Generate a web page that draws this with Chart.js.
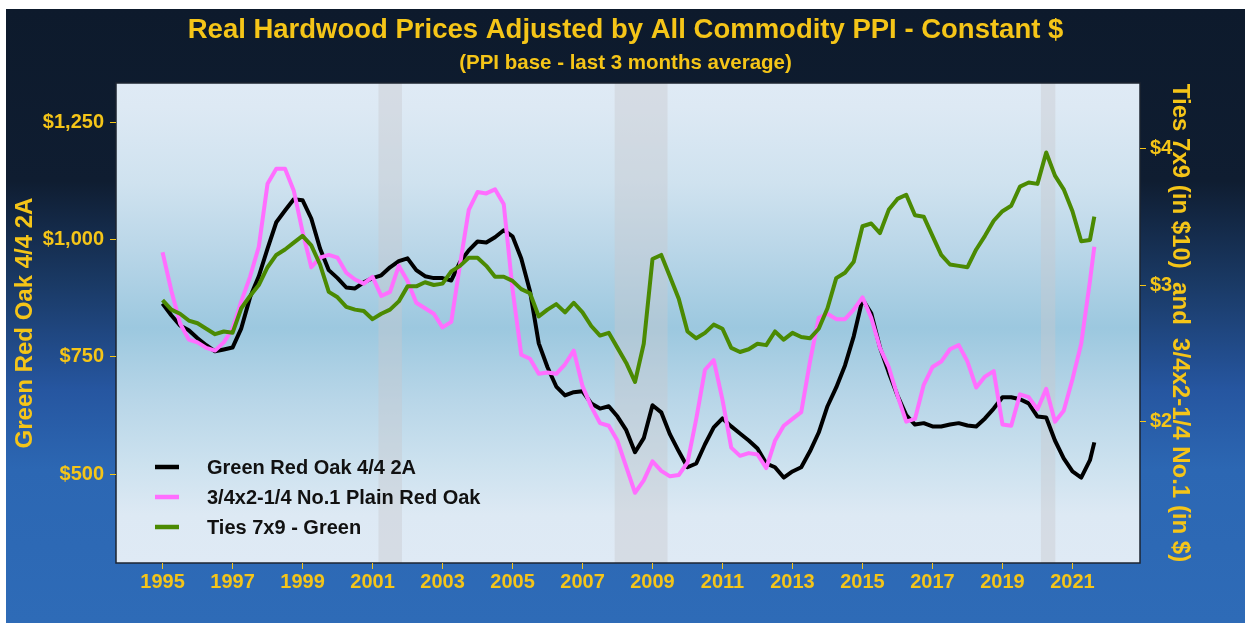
<!DOCTYPE html>
<html>
<head>
<meta charset="utf-8">
<title>Real Hardwood Prices</title>
<script src="https://cdn.jsdelivr.net/npm/chart.js@4.4.1/dist/chart.umd.min.js"></script>
<style>
  html, body { margin: 0; padding: 0; background: #ffffff; }
  canvas { display: block; }
</style>
</head>
<body>
<canvas id="chart" width="1245" height="623"></canvas>
<script>
// quarterly dates (decimal years), last point is Aug 2021
const dates = Array.from({ length: 107 }, (_, i) => 1995 + i / 4).concat([2021.625]);

// Green Red Oak 4/4 2A, $/MBF (left axis)
const redOak = [
  864, 839, 817, 807,   790, 775, 762, 766,   770, 811, 877, 922,
  981, 1037, 1062, 1086, 1084, 1045, 981, 935, 918, 898, 896, 909,
  918, 924, 941, 954,   960, 935, 922, 918,   918, 913, 952, 977,
  996, 994, 1005, 1020, 1007, 960, 890, 779,  728, 687, 668, 675,
  677, 651, 640, 645,   623, 594, 547, 577,   647, 632, 585, 549,
  515, 523, 564, 600,   619, 602, 587, 572,   555, 523, 515, 493,
  506, 515, 549, 589,   645, 685, 732, 794,   873, 843, 770, 717,
  668, 626, 606, 609,   602, 602, 606, 609,   604, 602, 619, 640,
  664, 664, 660, 651,   623, 621, 572, 534,   506, 493, 530, 568
];

// 3/4x2-1/4 No.1 Plain Red Oak, $ (right axis)
const plainRedOak = [
  3.24, 2.96, 2.72, 2.60,  2.58, 2.54, 2.52, 2.58,  2.68, 2.88, 3.06, 3.28,
  3.74, 3.85, 3.85, 3.69,  3.39, 3.13, 3.20, 3.22,  3.20, 3.09, 3.04, 3.01,
  3.06, 2.92, 2.95, 3.14,  3.03, 2.87, 2.83, 2.79,  2.69, 2.73, 3.15, 3.55,
  3.68, 3.67, 3.70, 3.59,  2.97, 2.49, 2.46, 2.35,  2.36, 2.35, 2.42, 2.52,
  2.26, 2.11, 1.99, 1.97,  1.86, 1.67, 1.48, 1.57,  1.71, 1.64, 1.60, 1.61,
  1.70, 2.02, 2.38, 2.45,  2.16, 1.81, 1.75, 1.77,  1.76, 1.66, 1.86, 1.97,
  2.02, 2.07, 2.44, 2.76,  2.79, 2.75, 2.75, 2.82,  2.91, 2.76, 2.54, 2.40,
  2.19, 2.00, 2.02, 2.27,  2.40, 2.44, 2.53, 2.56,  2.44, 2.25, 2.33, 2.37,
  1.98, 1.97, 2.20, 2.18,  2.09, 2.24, 2.00, 2.08,  2.31, 2.57, 3.03, 3.28
];

// Ties 7x9 - Green, in $10 (right axis)
const ties = [
  2.89, 2.82, 2.79, 2.74,  2.72, 2.68, 2.64, 2.66,  2.65, 2.83, 2.92, 3.00,
  3.13, 3.22, 3.26, 3.31,  3.36, 3.29, 3.15, 2.95,  2.91, 2.84, 2.82, 2.81,
  2.75, 2.79, 2.82, 2.88,  2.99, 2.99, 3.02, 3.00,  3.01, 3.10, 3.14, 3.20,
  3.20, 3.14, 3.06, 3.06,  3.03, 2.97, 2.94, 2.77,  2.82, 2.86, 2.80, 2.87,
  2.80, 2.70, 2.63, 2.65,  2.54, 2.43, 2.29, 2.57,  3.19, 3.22, 3.06, 2.90,
  2.66, 2.61, 2.65, 2.71,  2.68, 2.54, 2.51, 2.53,  2.57, 2.56, 2.66, 2.60,
  2.65, 2.62, 2.61, 2.68,  2.83, 3.05, 3.09, 3.17,  3.43, 3.45, 3.38, 3.55,
  3.63, 3.66, 3.51, 3.50,  3.36, 3.22, 3.15, 3.14,  3.13, 3.26, 3.36, 3.47,
  3.54, 3.58, 3.72, 3.75,  3.74, 3.97, 3.80, 3.70,  3.54, 3.32, 3.33, 3.50
];

const seriesNames = ['Green Red Oak 4/4 2A', '3/4x2-1/4 No.1 Plain Red Oak', 'Ties 7x9 - Green'];
const seriesColors = ['#000000', '#ff6eff', '#4b8a02'];

const xTickYears = [1995, 1997, 1999, 2001, 2003, 2005, 2007, 2009, 2011, 2013, 2015, 2017, 2019, 2021];
const leftTicks = [500, 750, 1000, 1250];
const rightTicks = [2, 3, 4];

// recession periods (start, end)
const recessions = [[2001.17, 2001.84], [2007.92, 2009.43], [2020.1, 2020.51]];

const YELLOW = '#f5c518';
const FONT = '"Liberation Sans", Arial, Helvetica, sans-serif';
Chart.defaults.font.family = FONT;

const backdrop = {
  id: 'backdrop',
  beforeDraw(chart) {
    const { ctx, chartArea: a, scales: { x } } = chart;
    const W = chart.width, H = chart.height;
    ctx.save();
    ctx.fillStyle = '#ffffff';
    ctx.fillRect(0, 0, W, H);

    // outer background, dark navy to blue
    const g = ctx.createLinearGradient(0, 9, 0, H);
    g.addColorStop(0, '#0d1a2c');
    g.addColorStop(0.28, '#0f1d31');
    g.addColorStop(0.45, '#1a3a66');
    g.addColorStop(0.62, '#2656a0');
    g.addColorStop(0.75, '#2c67b3');
    g.addColorStop(1, '#2e6bb7');
    ctx.fillStyle = g;
    ctx.fillRect(6, 9, W - 6, H - 9);

    // panel
    const p = ctx.createLinearGradient(0, a.top, 0, a.bottom);
    p.addColorStop(0, '#dfeaf5');
    p.addColorStop(0.05, '#dde9f4');
    p.addColorStop(0.21, '#cfe2ef');
    p.addColorStop(0.35, '#b9d6e8');
    p.addColorStop(0.51, '#9cc8df');
    p.addColorStop(0.66, '#b8d6e8');
    p.addColorStop(0.8, '#cde2ef');
    p.addColorStop(0.9, '#dde9f4');
    p.addColorStop(1, '#dfeaf5');
    ctx.fillStyle = p;
    ctx.fillRect(a.left, a.top, a.right - a.left, a.bottom - a.top);

    // recession shading
    ctx.fillStyle = 'rgba(200, 200, 206, 0.42)';
    recessions.forEach(([s, e]) => {
      const x0 = x.getPixelForValue(s);
      const x1 = x.getPixelForValue(e);
      ctx.fillRect(x0, a.top, x1 - x0, a.bottom - a.top);
    });

    ctx.strokeStyle = '#1c2430';
    ctx.lineWidth = 1.5;
    ctx.strokeRect(a.left, a.top, a.right - a.left, a.bottom - a.top);
    ctx.restore();
  },
  afterDatasetsDraw(chart) {
    // legend inside the panel, bottom left
    const { ctx, chartArea: a } = chart;
    ctx.save();
    ctx.font = 'bold 20px ' + FONT;
    ctx.textBaseline = 'middle';
    ctx.textAlign = 'left';
    chart.data.datasets.forEach((ds, i) => {
      const y = a.bottom - 96 + i * 30;
      ctx.strokeStyle = ds.borderColor;
      ctx.lineWidth = 4.5;
      ctx.beginPath();
      ctx.moveTo(a.left + 39, y);
      ctx.lineTo(a.left + 63, y);
      ctx.stroke();
      ctx.fillStyle = '#111111';
      ctx.fillText(ds.label, a.left + 91, y + 1);
    });
    ctx.restore();
  }
};

const makeSet = (i, data, axis, order) => ({
  label: seriesNames[i],
  data: data.map((v, k) => ({ x: dates[k], y: v })),
  yAxisID: axis,
  borderColor: seriesColors[i],
  backgroundColor: seriesColors[i],
  borderWidth: 4,
  pointRadius: 0,
  tension: 0,
  borderJoinStyle: 'round',
  order: order
});

new Chart(document.getElementById('chart'), {
  type: 'line',
  data: {
    datasets: [
      makeSet(0, redOak, 'y', 3),
      makeSet(1, plainRedOak, 'y2', 2),
      makeSet(2, ties, 'y2', 1)
    ]
  },
  options: {
    responsive: false,
    animation: false,
    devicePixelRatio: 1,
    layout: { padding: { top: 9, left: 6, right: 0, bottom: 0 } },
    plugins: {
      legend: { display: false },
      tooltip: { enabled: false },
      title: {
        display: true,
        text: 'Real Hardwood Prices Adjusted by All Commodity PPI - Constant $',
        color: YELLOW,
        font: { size: 27.5, weight: 'bold' },
        padding: { top: 4.5, bottom: 0 }
      },
      subtitle: {
        display: true,
        text: '(PPI base - last 3 months average)',
        color: YELLOW,
        font: { size: 20.5, weight: 'bold' },
        padding: { top: 4.2, bottom: 7.7 }
      }
    },
    scales: {
      x: {
        type: 'linear',
        min: 1993.67,
        max: 2022.93,
        afterBuildTicks: (s) => { s.ticks = xTickYears.map(v => ({ value: v })); },
        afterFit: (s) => { s.height = 60; },
        grid: { drawOnChartArea: false, drawTicks: true, tickLength: 6, color: YELLOW },
        border: { display: false },
        ticks: {
          color: YELLOW,
          font: { size: 20, weight: 'bold' },
          padding: 1,
          maxRotation: 0,
          autoSkip: false,
          callback: (v) => String(v)
        }
      },
      y: {
        position: 'left',
        min: 311,
        max: 1333.7,
        afterBuildTicks: (s) => { s.ticks = leftTicks.map(v => ({ value: v })); },
        afterFit: (s) => { s.width = 110; },
        grid: { drawOnChartArea: false, drawTicks: true, tickLength: 6, color: YELLOW },
        border: { display: false },
        ticks: {
          color: YELLOW,
          font: { size: 20, weight: 'bold' },
          padding: 6,
          callback: (v) => '$' + v.toLocaleString('en-US')
        },
        title: {
          display: true,
          text: 'Green Red Oak 4/4 2A',
          color: YELLOW,
          font: { size: 24, weight: 'bold' },
          padding: { top: 5 }
        }
      },
      y2: {
        position: 'right',
        min: 0.966,
        max: 4.478,
        afterBuildTicks: (s) => { s.ticks = rightTicks.map(v => ({ value: v })); },
        afterFit: (s) => { s.width = 105; },
        grid: { drawOnChartArea: false, drawTicks: true, tickLength: 6, color: YELLOW },
        border: { display: false },
        ticks: {
          color: YELLOW,
          font: { size: 20, weight: 'bold' },
          padding: 4,
          callback: (v) => '$' + v
        },
        title: {
          display: true,
          text: 'Ties 7x9 (in $10)  and  3/4x2-1/4 No.1 (in $)',
          color: YELLOW,
          font: { size: 24, weight: 'bold' },
          padding: { top: 51 }
        }
      }
    }
  },
  plugins: [backdrop]
});
</script>
</body>
</html>
